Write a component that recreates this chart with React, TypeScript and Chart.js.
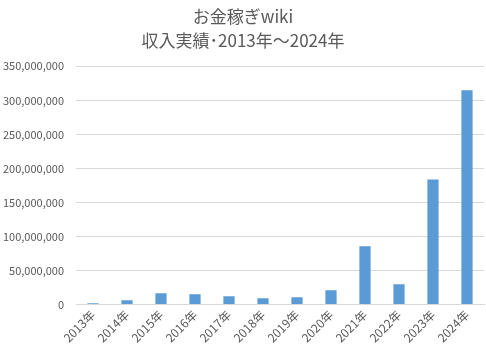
import React, { useEffect, useRef } from "react";
import { Chart, registerables } from "chart.js";

Chart.register(...registerables);

const categories = ["2013年", "2014年", "2015年", "2016年", "2017年", "2018年", "2019年", "2020年", "2021年", "2022年", "2023年", "2024年"];
const incomeValues = [1800000, 6300000, 16600000, 15100000, 12200000, 9300000, 10700000, 21000000, 85700000, 29800000, 183800000, 314700000];
const titleLines = ["お金稼ぎwiki", "収入実績･2013年～2024年"];
const yMax = 350000000;
const yStep = 50000000;

export default function App() {
  const ref = useRef<HTMLCanvasElement | null>(null);
  useEffect(() => {
    if (!ref.current) return;
    const font = "'Noto Sans CJK JP', 'Noto Sans', sans-serif";
    const chart = new Chart(ref.current, {
      type: "bar",
      data: {
        labels: categories,
        datasets: [
          {
            data: incomeValues,
            backgroundColor: "#5b9bd5",
            borderWidth: 0,
            categoryPercentage: 1,
            barPercentage: 0.33,
          },
        ],
      },
      options: {
        animation: false,
        responsive: false,
        layout: { padding: { left: 2, right: 2, top: 4, bottom: 1 } },
        plugins: {
          legend: { display: false },
          tooltip: { enabled: false },
          title: {
            display: true,
            text: titleLines,
            color: "#595959",
            font: { family: font, size: 17, weight: "normal", lineHeight: 1.45 },
            padding: { top: 0, bottom: 13 },
          },
        },
        scales: {
          x: {
            grid: { display: false, drawTicks: false },
            border: { display: true, color: "#d9d9d9" },
            afterFit: (scale: any) => {
              scale.paddingLeft = 0;
              scale.paddingRight = 0;
            },
            ticks: {
              color: "#595959",
              font: { family: font, size: 12 },
              maxRotation: 45,
              minRotation: 45,
              padding: 3,
            },
          },
          y: {
            min: 0,
            max: yMax,
            grid: { color: "#d9d9d9", drawTicks: false },
            border: { display: false },
            afterFit: (scale: any) => {
              scale.width = 74;
            },
            ticks: {
              stepSize: yStep,
              color: "#595959",
              font: { family: font, size: 11 },
              padding: 12,
              callback: (v: any) => Number(v).toLocaleString("en-US"),
            },
          },
        },
      },
    });
    return () => chart.destroy();
  }, []);
  return (
    <div style={{ position: "fixed", left: 0, top: 0, width: 486, height: 349, background: "#fff" }}>
      <canvas ref={ref} width={486} height={349} />
    </div>
  );
}
